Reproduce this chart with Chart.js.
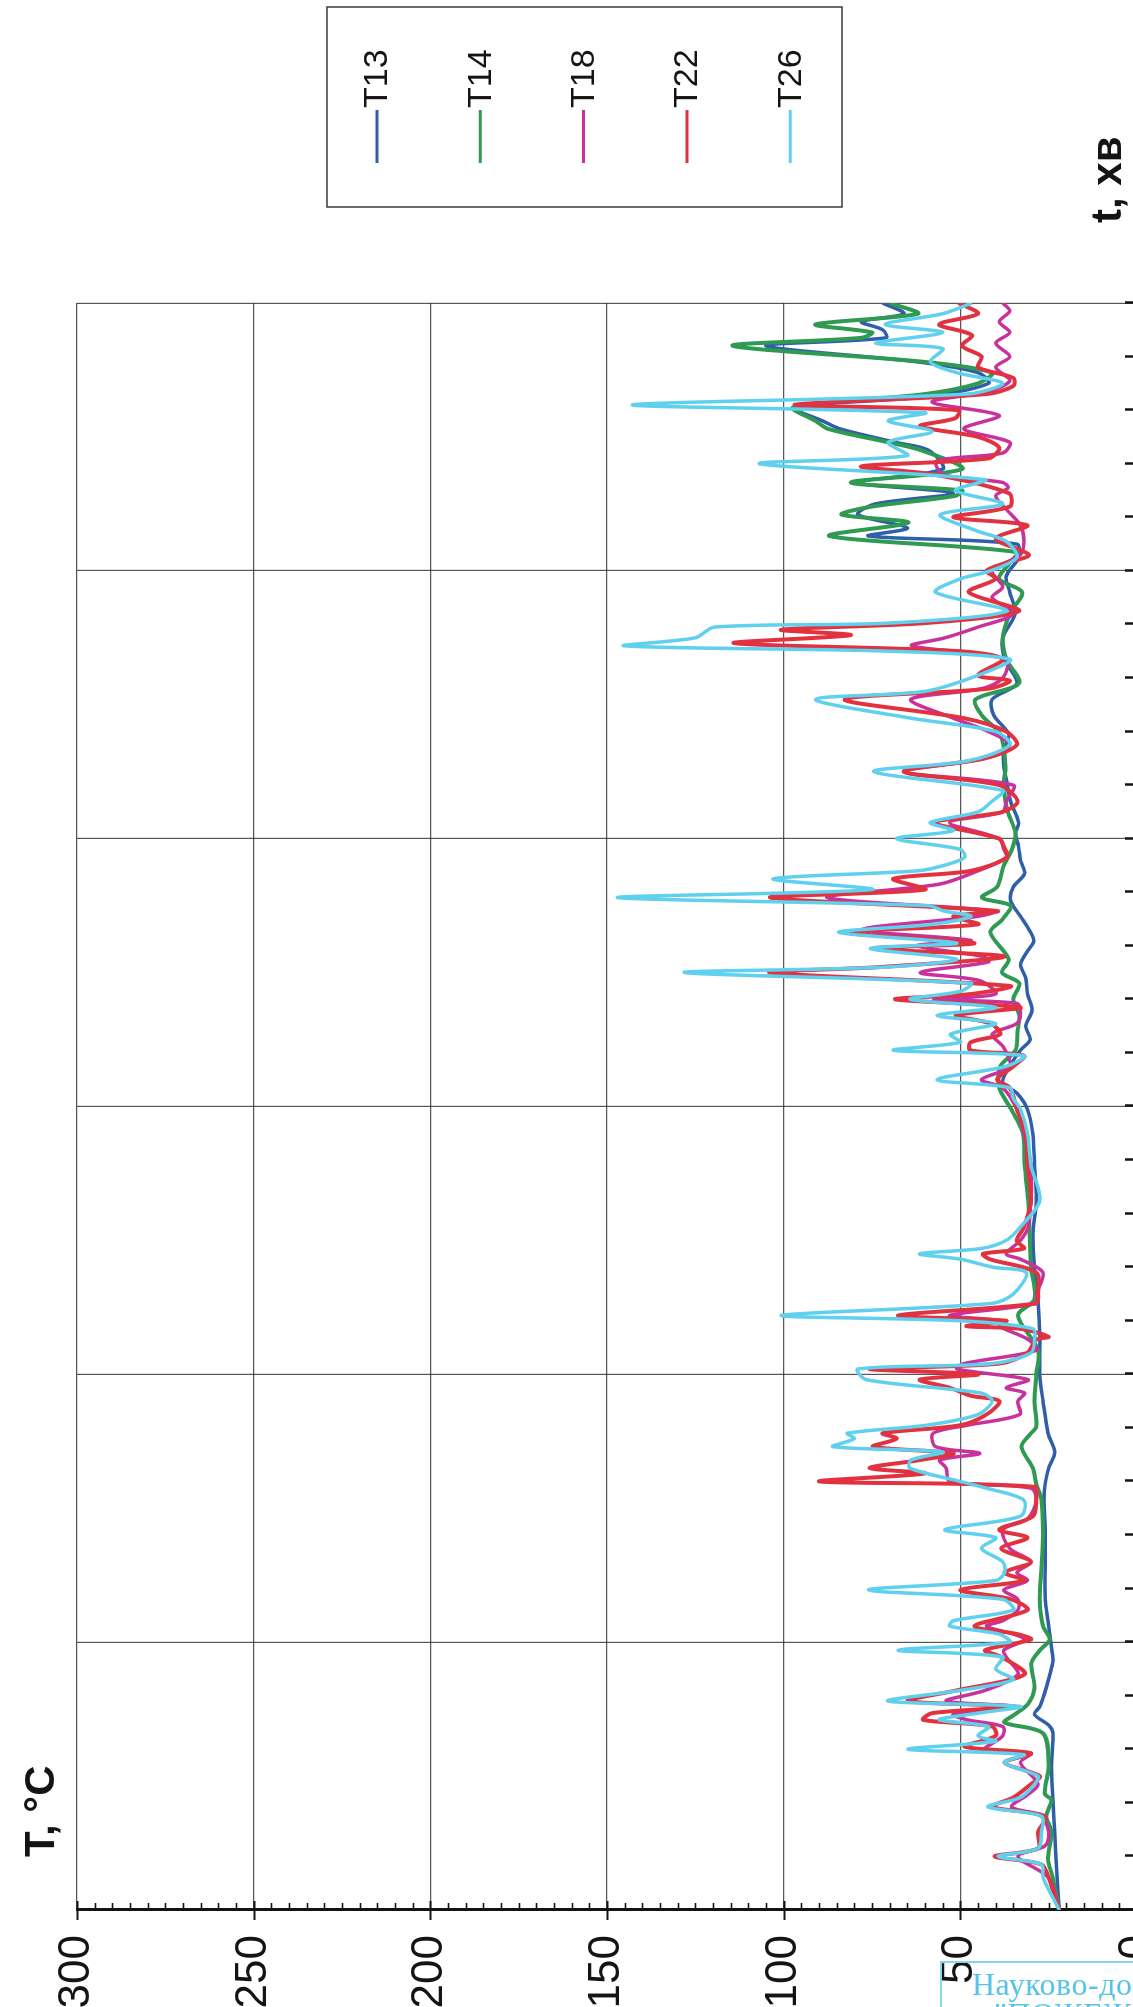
<!DOCTYPE html>
<html>
<head>
<meta charset="utf-8">
<script src="https://cdn.jsdelivr.net/npm/chart.js@4.4.1/dist/chart.umd.min.js"></script>
<style>
  html, body { margin: 0; padding: 0; width: 1133px; height: 2007px; overflow: hidden; background: #fff; }
  /* chart is drawn landscape, then turned a quarter turn to the left like the scanned page */
  #wrap { position: absolute; left: 0; top: 0; width: 2007px; height: 1190px;
          transform-origin: 0 0; transform: translate(0, 2007px) rotate(-90deg); }
  #chart { width: 2007px; height: 1190px; }
  #stamp { position: absolute; left: 940px; top: 1961px; width: 420px; height: 90px;
           border: 2px solid #86d6f0; color: #55c4e8;
           font-family: "Liberation Serif", "DejaVu Serif", serif; font-size: 32px; line-height: 30px; letter-spacing: 0.5px; }
  #stamp div { white-space: nowrap; }
</style>
</head>
<body>
<div id="wrap"><canvas id="chart" width="2007" height="1190"></canvas></div>
<div id="stamp">
  <div style="padding: 6px 0 0 30px">Науково-дослідний</div>
  <div style="padding-left: 52px">"ПОЖЕЖНОЇ</div>
</div>
<script>
// axes
const TIME_MIN = 0, TIME_MAX = 60, TIME_STEP = 2, TIME_GRID = 10;
const TEMP_MIN = 0, TEMP_MAX = 300, TEMP_STEP = 5, TEMP_GRID = 50;

const SERIES_NAMES = ['T13', 'T14', 'T18', 'T22', 'T26'];
const SERIES_COLORS = ['#2f5fa9', '#2e9a52', '#c9329c', '#e2323f', '#5fd0ee'];
const SERIES_WIDTHS = [3.5, 4, 3.5, 4, 3.5];

// [time, min ; temperature, °C]
const T13 = [[0,22],[1.6,22.8],[2.9,23.3],[4.1,23.8],[5.4,24.2],[6.6,23.8],[6.9,25],[7.3,29],[7.6,27.5],[8.3,25.7],[9.3,23.8],[9.8,24.2],[10.8,25.2],[11.6,26],[12.8,26],[14.1,26],[15.3,26.3],[15.9,26],[16.5,25],[17.1,23.3],[17.8,25.2],[19,26.6],[20,27.5],[21.5,27.5],[22.8,28],[24,29],[25.3,29.4],[26.5,28.5],[27.8,29],[29,29.5],[29.9,31],[30.5,34],[30.9,38],[31.5,36],[32.1,33],[32.5,30.2],[33,31.5],[33.6,29.7],[34.2,31],[34.8,31.5],[35.3,33],[35.8,31],[36.2,29.2],[36.7,31],[37.1,33],[37.7,35.8],[38.2,35],[38.7,31.8],[39.2,33],[39.7,33.5],[40.2,34.4],[40.6,33.5],[41.4,35.8],[42.1,36.8],[42.7,37.7],[43.3,37.7],[43.9,36.3],[44.6,40.5],[45.2,41],[45.8,34],[46.7,37.5],[47.5,38],[48.4,34.5],[49.2,36],[49.8,37],[50.5,33.5],[51,34],[51.3,76],[51.6,65],[52.1,79],[52.5,74],[52.9,52],[53.3,79],[53.8,55],[54.5,59],[54.8,68.5],[55.3,84],[55.6,89],[56.1,97],[56.5,60],[57,42],[57.4,45],[57.8,62],[58.4,105],[58.7,71],[59,72],[59.3,78],[59.6,66],[60,72]];
const T14 = [[0,22],[1.2,23.8],[1.9,25.2],[2.9,24.2],[3.5,25.7],[4.1,24.2],[4.35,26.1],[5.4,25],[6.6,26.6],[7,37.5],[7.3,34.6],[7.7,30.8],[8.3,29],[9.2,29.9],[9.7,27.5],[10.1,24.7],[10.6,26.6],[11.6,27.5],[12.8,27],[14.1,26.6],[15.3,27],[15.9,28.5],[16.5,29.5],[17.3,32.7],[17.8,30],[18.05,28.5],[19,29],[20,28.5],[20.9,28],[22.2,33.7],[22.8,29],[24,30],[25.3,30.4],[26.5,30.8],[27.8,31.8],[29,32.3],[29.9,35.6],[30.7,39],[31.5,38.7],[32.1,34.4],[32.8,33.8],[33.4,33.3],[34,35],[34.6,33.3],[35,38.2],[35.5,36.3],[36.5,41.5],[37,38],[37.5,35.8],[37.8,43.9],[38.2,39.6],[39,37.7],[39.6,35.4],[40.2,34.4],[41.1,36.8],[42.1,37.7],[42.7,37.2],[43.9,38.7],[44.6,43.9],[45.2,45.7],[45.8,33.4],[46.7,37],[47.5,38],[48.4,36],[49.2,32.5],[49.7,39],[50.3,36],[50.7,34],[51.3,87],[51.8,64.7],[52.1,83.6],[52.4,75],[52.8,51.4],[53,49.5],[53.3,81],[53.8,49.5],[54.5,61],[54.8,70.4],[55.3,87.4],[55.6,91],[56.1,97.3],[56.6,60],[57,45],[57.4,41],[57.8,60],[58.4,114.4],[58.7,78],[58.9,75],[59.2,91],[59.6,62],[60,70]];
const T18 = [[0,22],[1.2,25],[2,33.7],[2.4,26],[2.9,25],[3.5,27],[3.85,35.5],[4.3,31],[4.7,28],[5.5,33],[5.85,30],[6,43],[6.5,38],[6.85,38],[7.1,48],[7.3,52],[7.6,34.6],[7.8,54],[8.2,43],[8.8,33.7],[9.45,37],[9.7,37.7],[10.1,31.8],[10.3,35],[10.6,42.6],[10.8,38],[11.2,33.7],[11.6,33.7],[11.95,37.7],[12.3,31],[12.6,34],[13,30],[13.5,36],[14.2,38],[14.6,31],[15.3,28.5],[15.75,30],[16,53],[16.5,54],[16.8,55.8],[17.05,44.5],[17.3,57],[17.8,57.7],[18.1,48],[18.5,33.2],[19,33.7],[19.3,31.8],[19.5,37],[19.8,30.8],[20.2,51],[20.4,49],[20.9,28.5],[21.3,30.8],[21.8,39],[22,39],[22.2,53],[22.65,28.5],[23,28.5],[23.8,26.6],[24.3,33],[24.5,37],[25,33],[25.5,30.8],[26.5,30],[27.8,30],[29,32],[29.9,34],[30.7,38],[31,44],[31.5,36],[32.2,37.7],[32.7,41],[33.1,34],[33.5,33],[33.85,34],[34,57.5],[34.2,40],[34.7,44.5],[35,61.3],[35.4,42],[35.6,43.6],[36,62.3],[36.2,47],[36.6,78],[37.1,45],[37.3,40],[37.8,87.7],[38.3,56],[38.8,45],[39.3,37],[39.6,37.7],[40,39],[40.6,53],[41,38],[41.4,37],[42,35],[42.5,66],[43,43],[43.5,36],[44,42],[44.5,52],[45.2,64],[45.6,44],[46,38],[46.7,37],[47.2,63.7],[47.5,54.3],[47.9,45],[48.4,35],[49,41],[49.4,38],[50,41],[50.6,33],[51.1,32],[51.7,33],[52.3,37],[52.8,40],[53.1,36.5],[53.3,38],[53.6,55],[54.1,56.7],[54.4,38],[54.8,36],[55.3,49],[55.8,39],[56.3,58],[56.7,42],[57.1,36],[57.6,40],[58,36],[58.5,40],[58.9,36],[59.3,39],[59.7,36],[60,38]];
const T22 = [[0,22],[1.2,25],[1.7,27],[2,40.3],[2.3,28],[2.9,28],[3.5,26],[3.85,41],[4.2,35],[4.7,30],[5,27.5],[5.5,37.5],[5.85,30],[6.1,48.8],[6.5,40],[6.85,41],[7.1,60.5],[7.35,58],[7.6,34.6],[7.8,64.8],[8.2,51],[8.8,31.8],[9.45,38.4],[9.7,43],[10.1,30],[10.3,33.8],[10.6,46],[11.2,31],[11.6,35.6],[11.95,50],[12.3,31.8],[12.6,37.5],[13,30],[13.5,38.4],[13.9,31],[14.2,39],[14.7,29.4],[15.3,28.5],[15.8,29],[16,89.8],[16.3,60],[16.5,75.7],[16.8,61.5],[17.05,52],[17.3,74.7],[17.6,68],[17.8,72],[18.1,50],[18.5,42.6],[19,38.9],[19.2,47],[19.5,53],[19.8,61.5],[20,45],[20.2,75.7],[20.4,38.9],[20.8,31],[21.3,28.5],[21.4,25],[21.7,33],[21.8,48.3],[22,37],[22.2,67.6],[22.65,28.5],[23,28],[23.8,28.5],[24.3,41.7],[24.5,43.6],[24.7,32],[25,34],[25.5,32],[26.5,30],[27.8,31],[29,31.5],[29.9,34],[30.7,36],[31,39.6],[31.5,35],[31.9,32],[32.1,47.2],[32.4,47],[32.7,38.7],[33.1,41.5],[33.4,51.3],[33.7,33],[34,68.4],[34.2,47],[34.5,36],[35,103.8],[35.2,73.6],[35.6,37.5],[35.9,74.5],[36.1,46],[36.5,82],[36.8,45],[37.1,52],[37.3,39.6],[37.8,103.8],[38.1,60],[38.5,69],[38.8,47],[39.3,36.8],[39.7,37.7],[40,39],[40.6,56.6],[41,38],[41.4,33.8],[42,39],[42.5,66],[43,43],[43.5,34],[44,37],[44.5,49],[45.2,82.7],[45.6,42],[45.9,36],[46.1,45],[46.7,38],[47,50],[47.3,114],[47.6,81],[47.8,100.7],[48.05,60],[48.5,33.4],[49.2,47.6],[49.7,40],[50,42.6],[50.3,37],[50.6,30.6],[51.2,40],[51.7,31],[52,52],[52.4,36],[52.9,36.3],[53.6,57.6],[53.9,78],[54.2,42],[54.6,39],[55,45],[55.4,61.4],[55.7,51.4],[56,50.5],[56.2,96.9],[56.6,42.6],[56.9,35],[57.2,35],[57.6,45],[58,44],[58.4,49.5],[58.8,46.7],[59.2,56],[59.6,45],[60,50.5]];
const T26 = [[0,22],[1.2,26.6],[1.7,27],[2,39.3],[2.3,28],[2.9,27],[3.5,27],[3.85,42.2],[4.2,33],[4.7,29],[5,28],[5.5,37.5],[5.8,32],[6,64.8],[6.3,40],[6.5,45],[6.85,42],[7.1,56],[7.35,45],[7.6,33],[7.8,70.5],[8.2,50],[8.6,35],[9,40],[9.45,38],[9.7,67.6],[10,36],[10.3,39],[10.6,53],[10.8,52],[11.2,35],[11.6,38],[11.95,76],[12.3,40],[12.6,37.5],[13,38],[13.5,44],[13.9,40],[14.2,54.4],[14.7,33],[15.3,32],[15.75,42.6],[16,50],[16.5,64.3],[16.8,64],[17.1,55],[17.3,86],[17.6,80],[17.8,82],[18.1,59.6],[18.5,45],[19,41],[19.3,44],[19.8,76.6],[20.2,79],[20.4,41],[20.8,30],[21.3,29],[21.7,29.4],[22,50],[22.2,100.7],[22.65,41],[23,35],[23.8,31.3],[24,40.8],[24.3,50],[24.5,61.5],[24.7,44],[25,37],[25.5,33],[26.5,27.5],[27.8,30],[29,31],[29.9,33],[30.3,35],[30.7,36],[31,56.6],[31.5,37],[31.9,32],[32.1,68.9],[32.4,50],[32.7,52.8],[33.1,40],[33.4,56.6],[33.7,40],[34,64.2],[34.3,50],[34.6,47],[35,128],[35.2,72],[35.5,51],[35.9,75.5],[36.1,51],[36.5,84.4],[36.8,58],[37.1,47],[37.3,54.7],[37.5,59],[37.8,147],[38.1,75],[38.5,103],[38.8,62],[39,54.7],[39.3,48.8],[39.6,50],[40,68],[40.3,52],[40.6,58.5],[41,45],[41.4,41],[41.8,38],[42.5,74.5],[42.9,48],[43.5,36],[44,40],[44.5,64],[45.2,91],[45.5,60],[46.1,45],[46.7,36],[47,70],[47.2,145],[47.5,125],[47.9,119.6],[48.05,70],[48.5,37],[49.2,57],[49.7,50],[50,41.5],[50.5,34],[51.1,37],[51.5,45.5],[52.1,55.7],[52.5,38],[53,51.4],[53.4,43],[54,106.8],[54.3,65],[54.8,70.4],[55.2,58],[55.6,70.4],[55.9,60],[56.2,142.8],[56.6,48],[57,38],[57.4,51],[57.8,58.5],[58.3,55],[58.5,74],[58.9,55],[59.2,71.3],[59.6,55],[60,46.7]];

const SERIES_DATA = [T13, T14, T18, T22, T26];

const GRID = 'rgba(45, 45, 45, 0.8)';
const INK = '#141414';
const FONT = '"Liberation Sans", Arial, sans-serif';

// tick marks, axis titles and the boxed legend of the scanned sheet
const decor = {
  id: 'decor',
  beforeDraw(chart) {
    const ctx = chart.ctx;
    ctx.save();
    ctx.fillStyle = '#fff';
    ctx.fillRect(0, 0, chart.width, chart.height);
    ctx.restore();
  },
  afterDraw(chart) {
    const { ctx, chartArea: a, scales: { x, y } } = chart;
    ctx.save();
    ctx.strokeStyle = INK;

    // temperature axis: minor ticks inside, major ones crossing the axis
    y.ticks.forEach(function (t) {
      const py = Math.round(y.getPixelForValue(t.value)) + 0.5;
      const major = t.value % TEMP_GRID === 0;
      ctx.lineWidth = major ? 2 : 1.6;
      ctx.beginPath();
      ctx.moveTo(a.left - (major ? 10 : 0), py);
      ctx.lineTo(a.left + (major ? 9 : 7), py);
      ctx.stroke();
    });

    // time axis ticks (pointing into the plot)
    x.ticks.forEach(function (t) {
      const px = Math.round(x.getPixelForValue(t.value)) + 0.5;
      ctx.lineWidth = 2.5;
      ctx.beginPath();
      ctx.moveTo(px, a.bottom + 8);
      ctx.lineTo(px, a.bottom - 12);
      ctx.stroke();
    });

    // axis titles
    ctx.fillStyle = INK;
    ctx.font = 'bold 42px ' + FONT;
    ctx.textAlign = 'left';
    ctx.textBaseline = 'alphabetic';
    ctx.fillText('T, °C', a.left + 53, 54);
    ctx.fillText('t, хв', a.right + 80, 1121);

    // legend
    const lx = a.right + 96, ly = 327;
    ctx.lineWidth = 1.5;
    ctx.strokeStyle = '#3a3a3a';
    ctx.strokeRect(lx, ly, 200, 515);
    ctx.font = '34px ' + FONT;
    ctx.textBaseline = 'middle';
    chart.data.datasets.forEach(function (ds, i) {
      const cy = ly + 50 + i * 103.3;
      ctx.strokeStyle = ds.borderColor;
      ctx.lineWidth = 3;
      ctx.beginPath();
      ctx.moveTo(lx + 44, cy);
      ctx.lineTo(lx + 97, cy);
      ctx.stroke();
      ctx.fillStyle = INK;
      ctx.fillText(ds.label, lx + 99, cy + 1);
    });
    ctx.restore();
  }
};

new Chart(document.getElementById('chart'), {
  type: 'line',
  data: {
    datasets: SERIES_NAMES.map(function (name, i) {
      return {
        label: name,
        data: SERIES_DATA[i].map(function (p) { return { x: p[0], y: p[1] }; }),
        borderColor: SERIES_COLORS[i],
        borderWidth: SERIES_WIDTHS[i],
        pointRadius: 0,
        tension: 0.3,
        fill: false,
        order: SERIES_NAMES.length - i
      };
    })
  },
  options: {
    responsive: false,
    animation: false,
    devicePixelRatio: 1,
    layout: { padding: { top: 77, right: 303, left: 0, bottom: 0 } },
    plugins: { legend: { display: false }, tooltip: { enabled: false } },
    scales: {
      x: {
        type: 'linear',
        position: 'bottom',
        min: TIME_MIN,
        max: TIME_MAX,
        ticks: { stepSize: TIME_STEP, display: false, autoSkip: false, maxTicksLimit: 100 },
        grid: {
          color: function (c) { return c.tick && c.tick.value % TIME_GRID === 0 ? GRID : 'rgba(0,0,0,0)'; },
          lineWidth: 1.2,
          drawTicks: false
        },
        border: { display: true, color: INK, width: 3 },
        afterFit: function (s) { s.height = 53; }
      },
      y: {
        type: 'linear',
        position: 'left',
        min: TEMP_MIN,
        max: TEMP_MAX,
        ticks: {
          stepSize: TEMP_STEP,
          autoSkip: false,
          maxTicksLimit: 100,
          padding: 25,
          color: INK,
          font: { family: FONT, size: 44 },
          callback: function (v) { return v % TEMP_GRID === 0 ? v : ''; }
        },
        grid: {
          color: function (c) { return c.tick && c.tick.value % TEMP_GRID === 0 ? GRID : 'rgba(0,0,0,0)'; },
          lineWidth: 1.2,
          drawTicks: false
        },
        border: { display: true, color: INK, width: 3 },
        afterFit: function (s) { s.width = 97; }
      }
    }
  },
  plugins: [decor]
});
</script>
</body>
</html>
